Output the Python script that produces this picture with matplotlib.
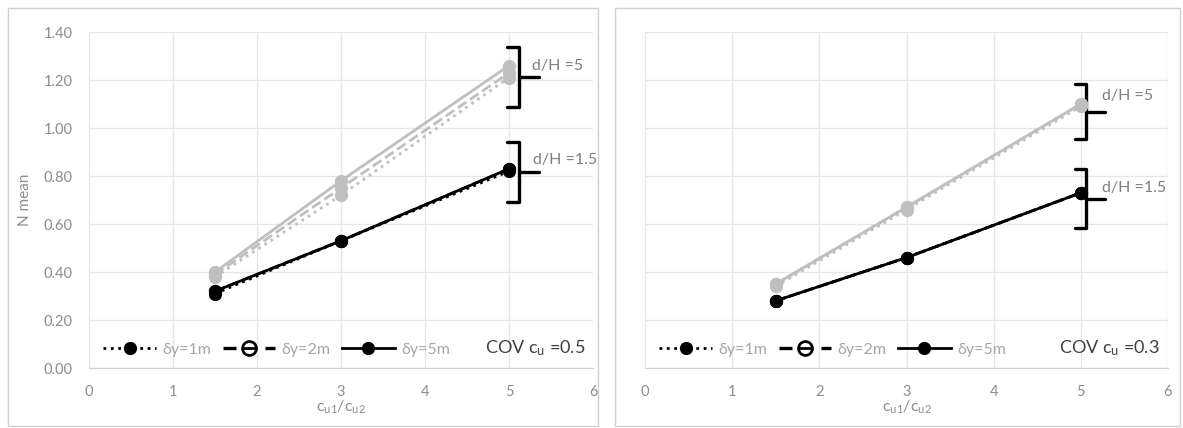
import numpy as np
import matplotlib
matplotlib.use("Agg")
import matplotlib.pyplot as plt
from matplotlib.lines import Line2D
from matplotlib.patches import Rectangle

plt.rcParams['font.family'] = ['Lato', 'DejaVu Sans']
plt.rcParams['mathtext.default'] = 'regular'

# ---- data -------------------------------------------------------------------
ratio = [1.5, 3, 5]          # c_u1 / c_u2
dy_labels = ['δy=1m', 'δy=2m', 'δy=5m']
dy_styles = [':', '--', '-']

# COV c_u = 0.5
n05_dH5 = [[0.38, 0.72, 1.21],
           [0.39, 0.75, 1.23],
           [0.40, 0.78, 1.26]]
n05_dH15 = [[0.31, 0.53, 0.82],
            [0.32, 0.53, 0.83],
            [0.32, 0.53, 0.83]]

# COV c_u = 0.3
n03_dH5 = [[0.34, 0.66, 1.09],
           [0.35, 0.67, 1.10],
           [0.35, 0.67, 1.10]]
n03_dH15 = [[0.28, 0.46, 0.73],
            [0.28, 0.46, 0.73],
            [0.28, 0.46, 0.73]]

cov_labels = ['COV c$_u$ =0.5', 'COV c$_u$ =0.3']
yticks = np.arange(0, 1.41, 0.2)

GRAY = '#bfbfbf'
TXT = '#8c8c8c'


def brace(ax, x0, x1, x2, ylo, yhi):
    # "}" shape: tips at x0, spine at x1, middle prong out to x2
    ym = 0.5*(ylo + yhi)
    ax.plot([x0, x1, x1, x2], [yhi, yhi, ym, ym], color='black', lw=2.4,
            solid_joinstyle='round', solid_capstyle='round', clip_on=False)
    ax.plot([x0, x1, x1], [ylo, ylo, ym], color='black', lw=2.4,
            solid_joinstyle='round', solid_capstyle='round', clip_on=False)


def panel(ax, dH5, dH15, cov, braces, show_y):
    for vals, ls in zip(dH5, dy_styles):
        ax.plot(ratio, vals, ls=ls, color=GRAY, lw=2, marker='o',
                ms=8.5, zorder=3)
    for vals, ls in zip(dH15, dy_styles):
        ax.plot(ratio, vals, ls=ls, color='black', lw=2, marker='o',
                ms=8.5, zorder=4)

    ax.set_xlim(0, 6)
    ax.set_ylim(0, 1.40)
    ax.set_yticks(yticks)
    ax.set_xticks(range(7))
    ax.grid(True, color='#e6e6e6', lw=1)
    ax.set_axisbelow(True)
    for s in ['top', 'right', 'left']:
        ax.spines[s].set_visible(False)
    ax.spines['bottom'].set_color('#d0d0d0')
    ax.tick_params(length=0, colors=TXT, labelsize=10.5, pad=12)
    if show_y:
        ax.set_yticklabels([f'{v:.2f}' for v in yticks])
        ax.set_ylabel('N mean', color=TXT, fontsize=11, labelpad=8)
    else:
        ax.set_yticklabels([])
    ax.set_xlabel('c$_{u1}$/c$_{u2}$', color=TXT, fontsize=11.5, labelpad=0)

    for (x0, x1, x2, ylo, yhi, tx, ty, lab) in braces:
        brace(ax, x0, x1, x2, ylo, yhi)
        ax.text(tx, ty, lab, color='#7f7f7f', fontsize=11.5,
                va='center', ha='left', clip_on=False)

    handles = [
        Line2D([], [], ls=':', color='black', lw=2, marker='o', ms=8.5),
        Line2D([], [], ls='--', color='black', lw=2.4, marker=r'$\ominus$',
               ms=11, dashes=(3.9, 8.7)),
        Line2D([], [], ls='-', color='black', lw=2, marker='o', ms=8.5),
    ]
    ax.legend(handles, dy_labels, loc='lower left', bbox_to_anchor=(0.0, -0.01),
              ncol=3, frameon=False, fontsize=11.5, labelcolor='#a6a6a6',
              handlelength=3.3, handletextpad=0.4, columnspacing=0.7)
    ax.text(0.985, 0.06, cov, transform=ax.transAxes, ha='right',
            va='center', fontsize=13, color='#404040')


fig = plt.figure(figsize=(11.83, 4.28), dpi=100)

# panel frames
fig.patches.append(Rectangle((8/1183, 2/428), 590/1183, 418/428,
                             transform=fig.transFigure, fill=False,
                             ec='#d0d0d0', lw=1))
fig.patches.append(Rectangle((615/1183, 2/428), 565/1183, 418/428,
                             transform=fig.transFigure, fill=False,
                             ec='#d0d0d0', lw=1))

ax1 = fig.add_axes([89/1183, 60/428, 504/1183, 336/428])
ax2 = fig.add_axes([645/1183, 60/428, 523/1183, 336/428])

panel(ax1, n05_dH5, n05_dH15, cov_labels[0],
      [(4.98, 5.12, 5.36, 1.088, 1.337, 5.27, 1.26, 'd/H =5'),
       (4.98, 5.12, 5.36, 0.69, 0.94, 5.29, 0.867, 'd/H =1.5')], True)
panel(ax2, n03_dH5, n03_dH15, cov_labels[1],
      [(4.93, 5.06, 5.28, 0.954, 1.183, 5.24, 1.133, 'd/H =5'),
       (4.93, 5.06, 5.28, 0.583, 0.829, 5.24, 0.75, 'd/H =1.5')], False)

fig.savefig('out.png', dpi=100)
